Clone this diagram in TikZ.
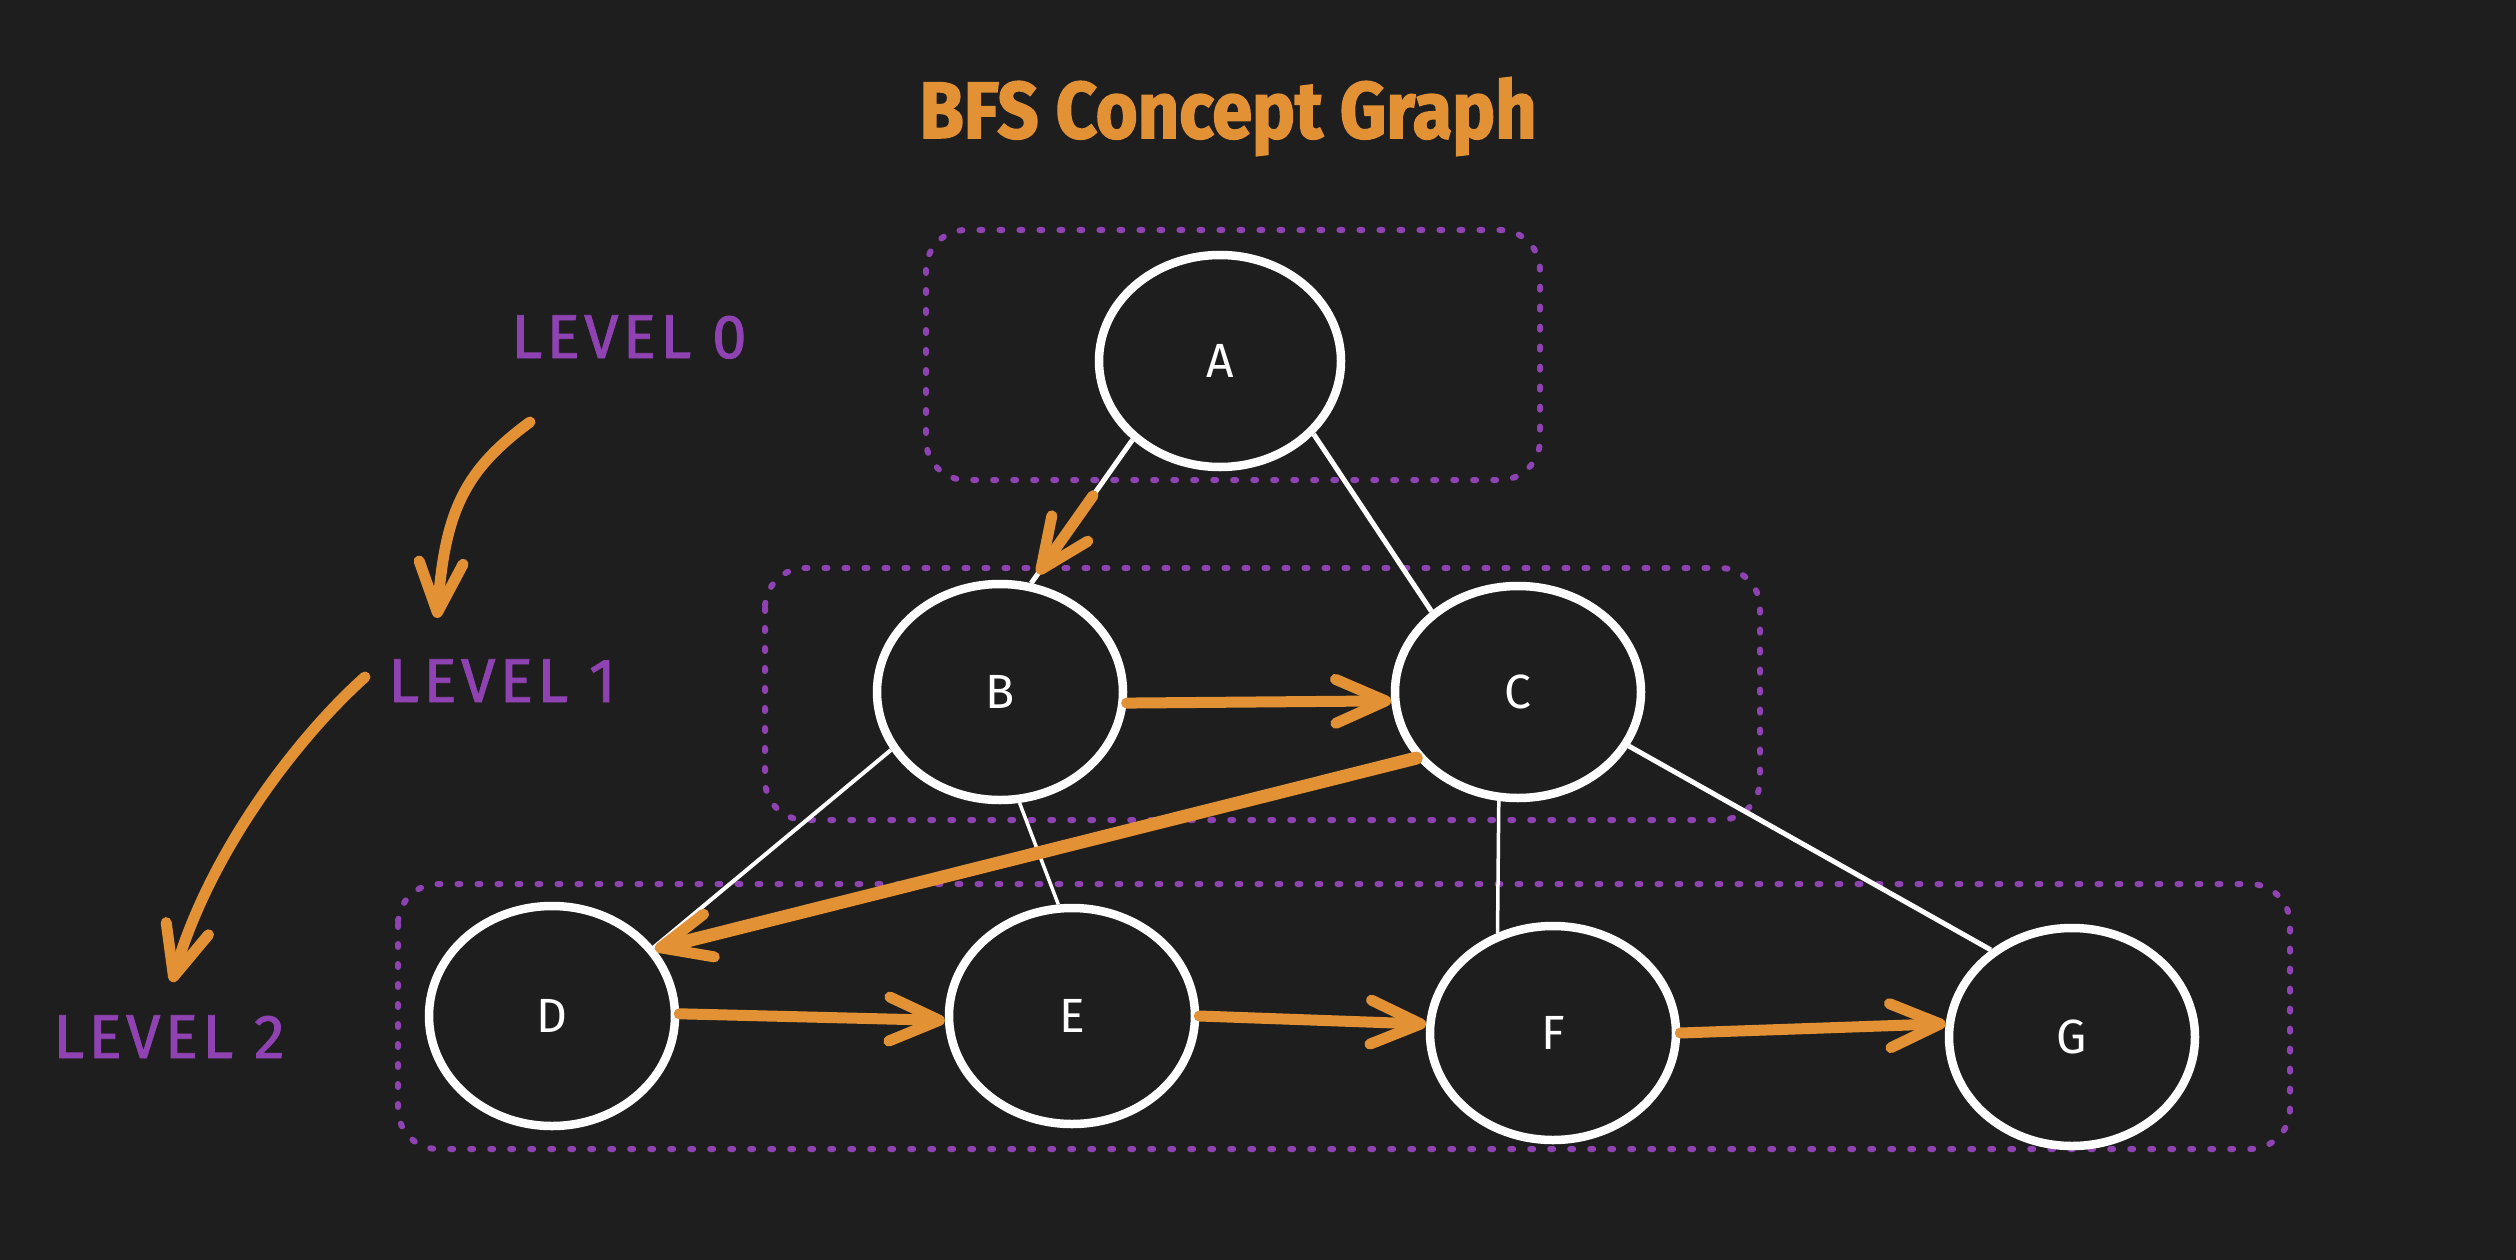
\documentclass[tikz,border=0pt]{standalone}
\usepackage{fontspec}
\setmainfont{Fira Sans}
\newfontfamily\titlefont{Fira Sans}[FakeStretch=0.9,FakeBold=2]
\newfontfamily\handfont{Fira Sans}[LetterSpace=5]
\newfontfamily\lvlfont{Fira Sans}[LetterSpace=7,FakeBold=1.3]
\usetikzlibrary{arrows.meta,shapes.geometric}
\definecolor{bg}{RGB}{30,30,30}
\definecolor{orng}{RGB}{226,145,53}
\definecolor{purp}{RGB}{143,66,178}
\begin{document}
\begin{tikzpicture}[x=1pt,y=-1pt,
  vert/.style={ellipse, draw=white, line width=8.5pt, minimum width=246pt, minimum height=216pt, inner sep=0pt, text=white, font=\handfont\fontsize{48}{48}\selectfont},
  lvlbox/.style={draw=purp, line width=6pt, dash pattern=on 3pt off 17pt, line cap=round, rounded corners=40pt},
  edge/.style={draw=white, line width=4pt},
  trav/.style={draw=orng, line width=11pt, line cap=round, -{Straight Barb[length=50pt,width=44pt,line width=11pt,round]}},
  lvl/.style={text=purp, font=\lvlfont\fontsize{62}{62}\selectfont, inner sep=0pt, anchor=base},
]
\useasboundingbox (0,0) rectangle (2516,1260);
\fill[bg] (0,0) rectangle (2516,1260);

% level boxes
\draw[lvlbox] (926,230) rectangle (1540,480);
\draw[lvlbox] (765,568) rectangle (1760,820);
\draw[lvlbox] (398,884) rectangle (2290,1149);

% title
\node[text=orng, font=\titlefont\bfseries\fontsize{80}{80}\selectfont, inner sep=0pt, anchor=base] (title) at (1228,138) {BFS Concept Graph};

% vertices
\node[vert, minimum width=242pt, minimum height=212pt] (A) at (1220,361) {A};
\node[vert] (B) at (1000,692) {B};
\node[vert, minimum height=212pt] (C) at (1518,692) {C};
\node[vert, minimum height=220pt] (D) at (552,1016) {D};
\node[vert] (E) at (1072,1016) {E};
\node[vert, minimum height=214pt] (F) at (1553,1033) {F};
\node[vert, minimum height=218pt] (G) at (2072,1037) {G};

% white edges
\draw[edge, line width=5pt] (A.222) -- (B.74) coordinate[pos=0.39] (ab1) coordinate[pos=0.935] (ab2);
\draw[edge, line width=5pt] (A.322) -- (C.137);
\draw[edge] (B.208) -- (D.34);
\draw[edge, line width=3.5pt] (B.280) -- (E.97);
\draw[edge, line width=3.5pt] (C.260) -- (F.119);
\draw[edge, line width=5pt] (C.334) -- (G.133);

% traversal arrows
\draw[trav] (ab1) -- (ab2);
\draw[trav] (B.355) -- (C.184);
\draw[trav, line width=13pt] (C.213) -- (D.33);
\draw[trav] (D.1) -- (E.182);
\draw[trav] (E.0) -- (F.176);
\draw[trav] (F.0) -- (G.174);

% level labels
\node[lvl] (l0) at (629,358) {LEVEL 0};
\node[lvl] (l1) at (502,702) {LEVEL 1};
\node[lvl] (l2) at (169,1058) {LEVEL 2};

% curved level arrows
\coordinate (c1s) at (530,422);
\coordinate (c1e) at (437,618);
\coordinate (c2s) at (365,677);
\coordinate (c2e) at (172,982);
\draw[trav] (c1s) .. controls (465,470) and (445,510) .. (c1e);
\draw[trav] (c2s) .. controls (300,735) and (210,850) .. (c2e);
\end{tikzpicture}
\end{document}
